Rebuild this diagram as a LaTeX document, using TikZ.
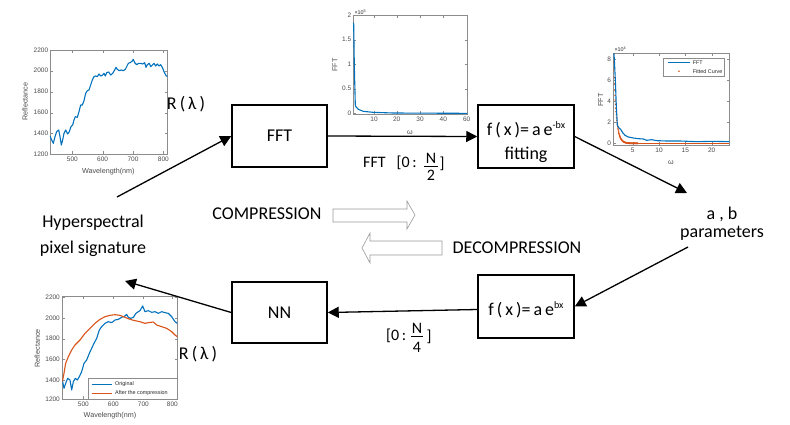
\documentclass[tikz,border=0pt]{standalone}
\usepackage{fontspec}
\setmainfont{Carlito}
\newfontfamily\plotfont{Liberation Sans}
\usetikzlibrary{arrows.meta,calc}
\definecolor{mblue}{RGB}{0,114,189}
\definecolor{morange}{RGB}{217,83,25}
\tikzset{
  blockbox/.style={draw, line width=1.5pt, inner sep=0pt, align=center, font=\fontsize{18}{24}\selectfont},
  flow/.style={line width=1.3pt, -{Triangle[length=11pt,width=11pt]}},
  axbox/.style={draw=black!45, line width=0.4pt},
  axtick/.style={draw=black!45, line width=0.3pt},
  ticklab/.style={font=\plotfont\fontsize{6.5}{7}\selectfont, text=black!70, inner sep=0.6pt},
  axlab/.style={font=\plotfont\fontsize{7.2}{8}\selectfont, text=black!70, inner sep=0pt},
  leglab/.style={font=\plotfont\fontsize{5.4}{6}\selectfont, text=black!85, inner sep=0pt, anchor=west},
  lbl/.style={font=\fontsize{18}{18}\selectfont, inner sep=0pt, align=center},
  smalllbl/.style={font=\fontsize{16}{18}\selectfont, inner sep=0pt},
  hollow/.style={draw=black!40, line width=0.6pt, fill=white, line join=miter},
  curveb/.style={draw=mblue, line width=1.1pt, line join=round},
  curveo/.style={draw=morange, line width=1.1pt, line join=round}
}
\newcommand{\myexp}[1]{\raisebox{7pt}{\fontsize{10}{10}\selectfont #1}}
\begin{document}
\begin{tikzpicture}[x=1pt,y=-1pt]
\useasboundingbox (0,0) rectangle (790,424);
\fill[white] (0,0) rectangle (790,424);

% ---------- Plot 1 (top left) ----------
\begin{scope}[shift={(0,30)},scale=1/3]
  \draw[axbox] (150,60) rectangle (502,372);
  \foreach \v/\y in {2200/60,2000/122,1800/185,1600/248,1400/310,1200/372}{
    \draw[axtick] (150,\y) -- ++(8,0);
    \draw[axtick] (502,\y) -- ++(-8,0);
    \node[ticklab,anchor=east] at (147,\y) {\v};}
  \foreach \v/\x in {500/217,600/308,700/399,800/490}{
    \draw[axtick] (\x,372) -- ++(0,-8);
    \draw[axtick] (\x,60) -- ++(0,8);
    \node[ticklab,anchor=north] at (\x,377) {\v};}
  \node[axlab] at (325,425) {Wavelength(nm)};
  \node[axlab,rotate=90] at (75,215) {Reflectance};
  \begin{scope}
    \clip (150,60) rectangle (502,372);
    \draw[curveb] plot coordinates {(150,318)(155,330)(160,340)(165,320)(170,305)(176,300)(180,320)(184,345)(188,330)(192,310)(197,300)(203,312)(208,305)(213,290)(218,285)(222,270)(226,260)(232,262)(237,245)(242,225)(247,225)(252,212)(257,190)(262,182)(267,180)(272,165)(277,150)(282,140)(287,138)(292,140)(297,132)(302,138)(307,136)(312,130)(316,138)(320,128)(326,126)(332,135)(338,130)(344,120)(348,112)(352,118)(358,122)(364,120)(370,122)(376,118)(380,110)(385,100)(390,98)(396,94)(400,88)(404,98)(410,104)(416,100)(422,100)(428,102)(434,98)(438,112)(442,104)(448,100)(452,110)(458,104)(462,100)(467,108)(472,102)(477,108)(482,104)(487,112)(492,125)(497,135)(502,140)};
  \end{scope}
\end{scope}

% ---------- Plot 2 (top middle) ----------
\begin{scope}[shift={(300,0)},scale=1/3]
  \draw[axbox] (160,45) rectangle (502,342);
  \foreach \v/\y in {2/45,1.5/119,1/193,0.5/266,0/340}{
    \draw[axtick] (160,\y) -- ++(8,0);
    \draw[axtick] (502,\y) -- ++(-8,0);
    \node[ticklab,anchor=east] at (156,\y) {\v};}
  \foreach \v/\x in {10/222,20/290,30/360,40/430,60/500}{
    \draw[axtick] (\x,342) -- ++(0,-8);
    \draw[axtick] (\x,45) -- ++(0,8);
    \node[ticklab,anchor=north] at (\x,348) {\v};}
  \node[leglab] at (163,36) {×10\textsuperscript{5}};
  \node[axlab] at (330,398) {ω};
  \node[axlab,rotate=90] at (105,195) {FFT};
  \draw[curveb] plot coordinates {(161,68)(163,200)(166,318)(175,328)(190,334)(220,337)(280,339)(502,340)};
\end{scope}

% ---------- Plot 3 (top right) ----------
\begin{scope}[shift={(580,30)},scale=1/3]
  \draw[axbox] (100,70) rectangle (448,345);
  \foreach \v/\y in {8/88,6/151,4/214,2/277,0/340}{
    \draw[axtick] (100,\y) -- ++(8,0);
    \draw[axtick] (448,\y) -- ++(-8,0);
    \node[ticklab,anchor=east] at (95,\y) {\v};}
  \foreach \v/\x in {5/158,10/237,15/316,20/395}{
    \draw[axtick] (\x,345) -- ++(0,-8);
    \draw[axtick] (\x,70) -- ++(0,8);
    \node[ticklab,anchor=north] at (\x,352) {\v};}
  \node[leglab] at (103,58) {×10\textsuperscript{4}};
  \node[axlab] at (273,399) {ω};
  \node[axlab,rotate=90] at (62,210) {FFT};
  \begin{scope}
    \clip (100,70) rectangle (448,345);
    \draw[curveo] (174,340) -- (448,340);
    \foreach \t in {1.35,1.40,...,6.0}{
      \fill[morange] ({79+15.8*\t},{340-31.5*8.6*exp(-2.1*(\t-1.35))}) circle (2.6);}
    \draw[curveb] plot coordinates {(102,70)(106,150)(109,230)(112,285)(116,293)(122,298)(128,308)(135,316)(145,321)(160,324)(175,326)(190,327)(200,331)(215,329)(230,332)(260,333)(300,333)(350,335)(400,334)(448,335)};
  \end{scope}
  \draw[axbox,fill=white] (250,85) rectangle (432,138);
  \draw[curveb] (263,98) -- (330,98);
  \node[leglab] at (338,98) {FFT};
  \fill[morange] (297,124) circle (2.6);
  \node[leglab] at (338,124) {Fitted Curve};
\end{scope}

% ---------- Plot 4 (bottom left) ----------
\begin{scope}[shift={(0,280)},scale=1/3]
  \draw[axbox] (187,50) rectangle (532,357);
  \foreach \v/\y in {2200/52,2000/114,1800/176,1600/238,1400/300,1200/357}{
    \draw[axtick] (187,\y) -- ++(8,0);
    \draw[axtick] (532,\y) -- ++(-8,0);
    \node[ticklab,anchor=east] at (182,\y) {\v};}
  \foreach \v/\x in {500/250,600/340,700/430,800/517}{
    \draw[axtick] (\x,357) -- ++(0,-8);
    \draw[axtick] (\x,50) -- ++(0,8);
    \node[ticklab,anchor=north] at (\x,362) {\v};}
  \node[axlab] at (330,408) {Wavelength(nm)};
  \node[axlab,rotate=90] at (112,205) {Reflectance};
  \begin{scope}
    \clip (187,50) rectangle (532,357);
    \draw[curveb] plot coordinates {(187,300)(192,325)(197,310)(203,295)(210,300)(215,330)(220,305)(226,295)(232,300)(238,290)(245,275)(252,250)(260,240)(268,220)(275,205)(282,190)(290,175)(298,150)(305,140)(315,130)(325,125)(335,128)(345,120)(355,118)(365,112)(375,108)(380,103)(385,112)(392,115)(400,112)(408,100)(415,95)(420,92)(428,78)(435,95)(445,92)(455,97)(465,95)(475,100)(485,95)(495,98)(505,100)(515,110)(525,125)(532,130)};
    \draw[curveo] plot coordinates {(187,305)(192,280)(197,250)(205,230)(215,210)(225,195)(240,180)(255,160)(270,145)(285,130)(300,118)(315,110)(330,106)(345,104)(360,106)(375,112)(390,118)(405,122)(420,125)(435,130)(445,128)(460,126)(470,135)(485,140)(500,145)(515,155)(525,165)(532,170)};
  \end{scope}
  \draw[axbox,fill=white] (265,295) rectangle (532,357);
  \draw[curveb] (275,313) -- (335,313);
  \node[leglab] at (345,313) {Original};
  \draw[curveo] (275,340) -- (335,340);
  \node[leglab] at (345,340) {After the compression};
\end{scope}

% ---------- Blocks ----------
\node[blockbox, minimum width=95pt, minimum height=62pt] (fft) at (279.5,136) {FFT};
\node[blockbox, minimum width=96pt, minimum height=63pt] (fit) at (526,136.5) {\rule{0pt}{25pt}f\,(\,x\,)=\,a\,e\myexp{-bx}\\fitting};
\node[blockbox, minimum width=96pt, minimum height=63pt] (dec) at (526,306.5) {\rule{0pt}{20pt}f\,(\,x\,)=\,a\,e\myexp{bx}};
\node[blockbox, minimum width=95pt, minimum height=61pt] (nn) at (279.5,312.5) {NN};

% ---------- Text labels ----------
\node[lbl, font=\fontsize{18}{26}\selectfont] (sig) at (93,236) {Hyperspectral\\pixel signature};
\node[lbl] (ab) at (722,224) {a , b\\parameters};
\node[lbl] (rl1) at (186,104) {R\,(\,λ\,)};
\node[lbl] (rl2) at (198,354) {R\,(\,λ\,)};
\node[lbl] (comp) at (267,214) {COMPRESSION};
\node[lbl] (decomp) at (517,248) {DECOMPRESSION};

% FFT [0:N/2]
\node[smalllbl,anchor=base west] (lfft) at (363,167) {FFT\hspace{11pt}[0\,:};
\node[smalllbl,anchor=base] (lfftn) at (431,163) {N};
\node[smalllbl,anchor=base] (lfftd) at (431,180) {2};
\node[smalllbl,anchor=base] (lfftr) at (442,168) {]};
\draw[line width=0.7pt] (424,166.5) -- (438,166.5);
% [0:N/4]
\node[smalllbl,anchor=base west] (lnn) at (386,340) {[0\,:};
\node[smalllbl,anchor=base] (lnnn) at (417,333) {N};
\node[smalllbl,anchor=base] (lnnd) at (417,352) {4};
\node[smalllbl,anchor=base] (lnnr) at (429,341) {]};
\draw[line width=0.7pt] (411,336) -- (423,336);

% ---------- Hollow arrows ----------
\draw[hollow] (333,209) -- (407,209) -- (407,201) -- (415,215) -- (407,229) -- (407,222) -- (333,222) -- cycle;
\draw[hollow] (442,241) -- (370,241) -- (370,233) -- (362,248) -- (370,263) -- (370,255) -- (442,255) -- cycle;

% ---------- Connectors ----------
\coordinate (s1) at (117,197);
\coordinate (abin) at (687,193);
\coordinate (about) at (688,247);
\coordinate (sigin) at (125,281);
\draw[flow] (s1) -- (fft.west);
\draw[flow] (fft.east) -- (fit.west);
\draw[flow] (fit.east) -- (abin);
\draw[flow] (about) -- (dec.east);
\draw[flow] ($(dec.west)+(0,3)$) -- (nn.east);
\draw[flow] (nn.west) -- (sigin);
\end{tikzpicture}
\end{document}
